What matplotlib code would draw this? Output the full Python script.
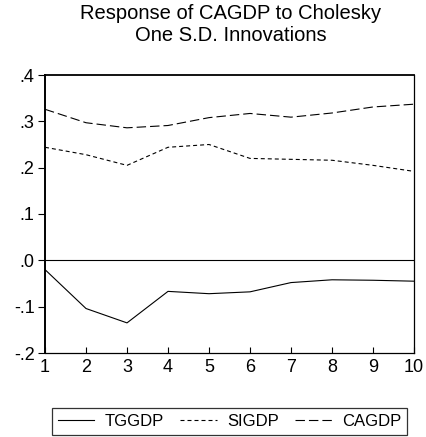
import matplotlib
matplotlib.use("Agg")
import matplotlib.pyplot as plt

plt.rcParams['font.family'] = ['Liberation Sans', 'DejaVu Sans']

periods = [1, 2, 3, 4, 5, 6, 7, 8, 9, 10]
tggdp = [-0.020, -0.104, -0.135, -0.067, -0.072, -0.068, -0.048, -0.042, -0.043, -0.045]
sigdp = [0.244, 0.228, 0.205, 0.244, 0.250, 0.220, 0.218, 0.216, 0.205, 0.192]
cagdp = [0.326, 0.297, 0.286, 0.291, 0.308, 0.317, 0.309, 0.318, 0.331, 0.337]
ytick_vals = [-0.2, -0.1, 0.0, 0.1, 0.2, 0.3, 0.4]
ytick_labels = ['-.2', '-.1', '.0', '.1', '.2', '.3', '.4']
title = "Response of CAGDP to Cholesky\nOne S.D. Innovations"

W, H = 426, 437
fig = plt.figure(figsize=(W / 100, H / 100), dpi=100)
ax = fig.add_axes([45 / W, 1 - 353 / H, (414 - 45) / W, (353 - 75) / H])

lw = 0.8
ax.plot(periods, tggdp, color='black', lw=lw, linestyle='-', label='TGGDP')
ax.plot(periods, sigdp, color='black', lw=lw, linestyle=(0, (3.6, 2.7)), label='SIGDP')
ax.plot(periods, cagdp, color='black', lw=lw, linestyle=(0, (8.5, 3.6)), label='CAGDP')
ax.axhline(0, color='black', lw=0.8)

ax.set_xlim(1, 10)
ax.set_ylim(-0.2, 0.4)
ax.set_xticks(periods)
ax.set_xticklabels([str(p) for p in periods])
ax.set_yticks(ytick_vals)
ax.set_yticklabels(ytick_labels)
ax.tick_params(axis='x', direction='in', length=4, width=0.8, labelsize=13, pad=4)
ax.tick_params(axis='y', direction='out', length=5, width=0.8, labelsize=13, pad=2.5)
for s in ax.spines.values():
    s.set_color('black')
    s.set_linewidth(0.9)
ax.spines['left'].set_linewidth(1.4)
ax.spines['top'].set_linewidth(1.3)

fig.text(231 / W, 1 - 4 / H, title, ha='center', va='top', fontsize=14.5, linespacing=1.2)

leg = fig.legend(loc='center', bbox_to_anchor=(229.5 / W, 1 - 421.5 / H), ncol=3,
                 frameon=True, fancybox=False, edgecolor='black', fontsize=12,
                 handlelength=2.2, columnspacing=1.0, handletextpad=0.6,
                 borderpad=0.35, borderaxespad=0)
leg.get_frame().set_linewidth(0.9)

fig.savefig('out.png', dpi=100)
